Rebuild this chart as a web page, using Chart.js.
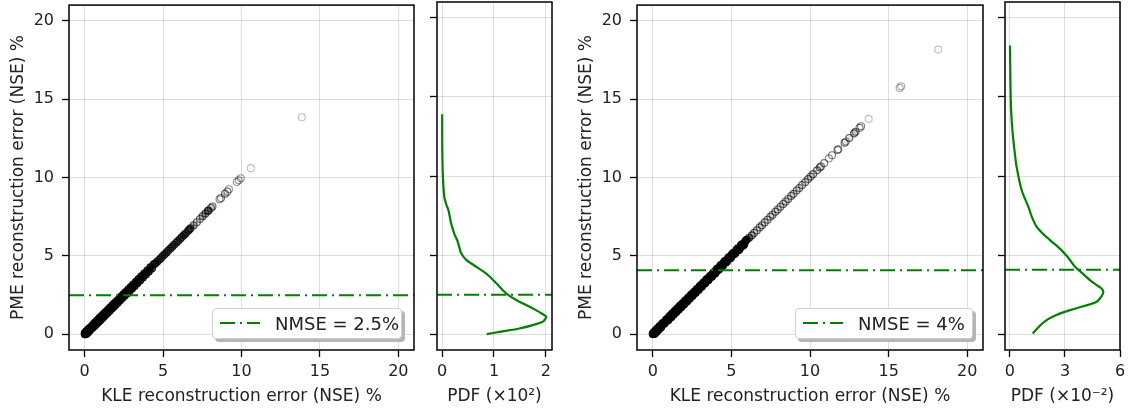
<!DOCTYPE html>
<html><head><meta charset="utf-8">
<script src="https://cdn.jsdelivr.net/npm/chart.js@4.4.0/dist/chart.umd.min.js"></script>
<style>
html,body{margin:0;padding:0;background:#fff;}
#wrap{position:relative;width:1130px;height:417px;overflow:hidden;font-family:'DejaVu Sans',sans-serif;}
canvas{position:absolute;top:0;}
.legend{position:absolute;top:308px;height:31px;background:#fff;border:1px solid #cfcfcf;border-radius:4px;box-shadow:3px 3px 0 #b5b5b5;box-sizing:border-box;}
.legend svg{position:absolute;left:6px;top:12px;}
.legend span{position:absolute;left:62px;top:0;line-height:29px;font-size:18px;color:#222;white-space:nowrap;}
</style></head>
<body>
<div id="wrap">
  <canvas id="c1" width="420" height="417" style="left:0px"></canvas>
  <canvas id="c2" width="150" height="417" style="left:420px"></canvas>
  <canvas id="c3" width="420" height="417" style="left:570px"></canvas>
  <canvas id="c4" width="140" height="417" style="left:990px"></canvas>
  <div class="legend" style="left:212px;width:190px;"><svg width="42" height="4"><line x1="1" y1="2" x2="41" y2="2" stroke="#008000" stroke-width="2" stroke-dasharray="15 5 2 5"/></svg><span id="lg1"></span></div>
  <div class="legend" style="left:795px;width:178px;"><svg width="42" height="4"><line x1="1" y1="2" x2="41" y2="2" stroke="#008000" stroke-width="2" stroke-dasharray="15 5 2 5"/></svg><span id="lg2"></span></div>
</div>
<script>
// ---------- data ----------
const errTicks = [0, 5, 10, 15, 20];
const pdfTicks1 = [0, 1, 2];
const pdfTicks2 = [0, 3, 6];
const nmse1 = 2.5;
const nmse2 = 4.08;
const legend1 = 'NMSE = 2.5%';
const legend2 = 'NMSE = 4%';

// left pair: KLE error vs PME error (%)
const kle1 = [0.00,0.02,0.04,0.06,0.09,0.11,0.14,0.17,0.2,0.23,0.26,0.3,0.33,0.37,0.41,0.45,0.49,0.53,0.58,0.62,0.67,0.71,0.76,0.81,0.86,0.91,0.96,1.01,1.07,1.12,1.18,1.23,1.29,1.35,1.41,1.47,1.53,1.59,1.65,1.72,1.78,1.85,1.91,1.98,2.05,2.12,2.19,2.26,2.33,2.4,2.47,2.55,2.62,2.7,2.78,2.86,2.94,3.02,3.1,3.18,3.27,3.35,3.44,3.53,3.62,3.71,3.8,3.9,3.99,4.09,4.19,4.29,4.4,
  4.5,4.62,4.75,4.86,4.98,5.1,5.22,5.33,5.47,5.58,5.7,5.84,5.95,6.08,6.2,6.33,6.45,6.6,6.68,6.75,6.95,7.15,7.35,7.52,7.7,7.85,7.9,8.05,8.15,
  8.6,8.7,8.95,9.1,9.2,9.7,9.82,9.95,10.6,13.85];
const pme1 = [0.05,0.0,0.12,0.0,0.16,0.04,0.2,0.1,0.27,0.15,0.34,0.22,0.4,0.3,0.47,0.38,0.56,0.45,0.65,0.53,0.75,0.62,0.84,0.72,0.94,0.82,1.05,0.92,1.15,1.03,1.26,1.14,1.37,1.26,1.49,1.38,1.61,1.5,1.73,1.63,1.86,1.76,1.99,1.89,2.13,2.03,2.27,2.17,2.41,2.31,2.55,2.46,2.7,2.61,2.86,2.77,3.02,2.93,3.18,3.09,3.35,3.26,3.52,3.44,3.7,3.62,3.88,3.81,4.07,4.0,4.27,4.2,4.47,
  4.52,4.63,4.76,4.86,4.99,5.1,5.22,5.34,5.47,5.58,5.71,5.84,5.95,6.08,6.2,6.33,6.45,6.6,6.68,6.76,6.96,7.15,7.36,7.53,7.7,7.86,7.9,8.06,8.15,
  8.62,8.7,8.97,9.1,9.25,9.72,9.82,9.96,10.6,13.85];
// left PDF (x10^2) against error level (%)
const pdf1 = [0, 0, 0.005, 0.015, 0.04, 0.08, 0.12, 0.16, 0.19, 0.24, 0.29, 0.33, 0.37, 0.47, 0.66, 0.8, 0.92, 1.05, 1.17, 1.27, 1.49, 1.66, 1.81, 1.92, 2.01, 1.98, 1.94, 1.75, 1.49, 1.11, 0.86];
const lev1 = [13.9, 12.5, 11.0, 9.9, 8.7, 8.2, 7.85, 7.2, 6.8, 6.3, 5.95, 5.5, 5.1, 4.68, 4.26, 3.95, 3.63, 3.2, 2.78, 2.49, 2.05, 1.78, 1.52, 1.31, 1.1, 0.92, 0.78, 0.57, 0.36, 0.15, 0.0];

// right pair
const kle2 = [0.0,0.03,0.06,0.1,0.14,0.2,0.26,0.33,0.4,0.5,0.6,0.7,0.78,0.9,1.0,1.1,1.18,1.26,1.34,1.42,1.5,1.58,1.66,1.75,1.83,1.92,2.0,2.09,2.18,2.27,2.36,2.45,2.54,2.64,2.73,2.83,2.93,3.03,3.13,3.23,3.33,3.44,3.55,3.66,3.77,3.88,4.0,4.11,4.23,4.35,4.47,4.59,4.72,4.85,4.98,5.11,5.25,5.39,5.53,5.67,5.82,5.97,
  0.05,0.12,0.17,0.23,0.3,0.37,0.45,0.55,0.65,0.74,0.84,0.95,1.05,1.14,1.22,1.3,1.38,1.46,1.54,1.62,1.7,1.79,1.87,1.96,2.04,2.13,2.22,2.31,2.4,2.49,2.59,2.68,2.78,2.88,2.98,3.08,3.18,3.28,3.38,3.49,3.6,3.71,3.82,3.94,4.05,4.17,4.29,4.41,4.53,4.65,4.78,4.91,5.04,5.18,5.32,5.46,5.6,5.74,5.89,
  6.12,6.3,6.45,6.62,6.8,6.95,7.12,7.3,7.48,7.62,7.8,7.95,8.12,8.3,8.45,8.62,8.8,8.95,9.15,9.32,9.5,9.7,9.88,10.05,10.2,10.45,10.62,10.7,
  10.9,11.2,11.4,11.75,11.8,12.2,12.28,12.5,12.8,12.9,13.15,13.25,13.73,15.7,15.8,18.15];
const pme2 = [0.03,0.0,0.12,0.02,0.2,0.12,0.33,0.26,0.46,0.42,0.67,0.74,0.76,0.97,0.93,1.18,1.1,1.34,1.26,1.5,1.42,1.66,1.58,1.83,1.75,2.0,1.92,2.17,2.1,2.35,2.28,2.53,2.46,2.72,2.65,2.91,2.85,3.11,3.05,3.31,3.25,3.52,3.47,3.74,3.69,3.96,3.92,4.19,4.15,4.43,4.39,4.67,4.64,4.93,4.9,5.19,5.17,5.47,5.45,5.75,5.74,6.03,
  0.1,0.06,0.22,0.16,0.36,0.3,0.52,0.48,0.72,0.68,0.91,0.88,1.12,1.08,1.29,1.25,1.45,1.41,1.61,1.57,1.77,1.74,1.93,1.91,2.1,2.08,2.28,2.26,2.46,2.44,2.65,2.63,2.84,2.82,3.04,3.02,3.24,3.22,3.44,3.43,3.66,3.65,3.88,3.87,4.11,4.1,4.35,4.34,4.59,4.58,4.84,4.84,5.1,5.1,5.38,5.37,5.66,5.65,5.95,
  6.14,6.31,6.47,6.63,6.82,6.96,7.14,7.31,7.5,7.63,7.82,7.96,8.14,8.31,8.47,8.63,8.82,8.96,9.17,9.33,9.52,9.71,9.9,10.06,10.22,10.46,10.64,10.71,
  10.92,11.22,11.42,11.76,11.8,12.22,12.3,12.52,12.82,12.92,13.17,13.27,13.74,15.72,15.82,18.16];
// right PDF (x10^-2) against error level (%)
const pdf2 = [0, 0.02, 0.04, 0.08, 0.15, 0.25, 0.36, 0.64, 1.0, 1.2, 1.45, 1.8, 2.18, 2.82, 3.2, 3.55, 4.0, 4.36, 4.73, 4.98, 5.09, 5.0, 4.73, 4.1, 3.27, 2.5, 2.0, 1.6, 1.24];
const lev2 = [18.25, 16.5, 15.0, 13.8, 12.7, 11.6, 10.6, 9.1, 8.06, 7.4, 6.8, 6.35, 5.95, 5.3, 4.8, 4.26, 3.8, 3.42, 3.1, 2.9, 2.68, 2.4, 2.05, 1.8, 1.52, 1.2, 0.89, 0.5, 0.04];

// ---------- styling / layout ----------
Chart.defaults.font.family = "'DejaVu Sans', sans-serif";
Chart.defaults.color = '#222';
const GREEN = '#008000';
const ERR_MIN = -1, ERR_MAX = 21;

const framePlugin = {
  id: 'frame',
  afterDraw(chart) {
    const {ctx, chartArea: a} = chart;
    ctx.save();
    ctx.strokeStyle = '#000';
    ctx.lineWidth = 1.5;
    ctx.strokeRect(a.left, a.top, a.right - a.left, a.bottom - a.top);
    ctx.restore();
  }
};

function grid() {
  return {color: 'rgba(0,0,0,0.13)', lineWidth: 1, tickColor: '#000', tickLength: 7, tickWidth: 1.3};
}
function fixedTicks(vals) {
  return s => { s.ticks = vals.map(v => ({value: v})); };
}
function fitTo(prop, size) {
  return s => { s[prop] = size; s.paddingLeft = 0; s.paddingRight = 0; s.paddingTop = 0; s.paddingBottom = 0; };
}
function pts(xs, ys) { return xs.map((x, i) => ({x: x, y: ys[i]})); }
// emulate over-plotting of translucent markers: darker where markers crowd together
function crowd(xs) {
  return xs.map(a => {
    let n = 0;
    for (const b of xs) if (Math.abs(a - b) <= 0.45) n++;
    return Math.min(1, 0.25 + 0.09 * (n - 1));
  });
}
function edgeColors(xs) { return crowd(xs).map(a => 'rgba(0,0,0,' + a.toFixed(3) + ')'); }
function fillColors(xs) { return crowd(xs).map(a => 'rgba(0,0,0,' + Math.max(0, Math.min(1, (a - 0.55) * 1.8)).toFixed(3) + ')'); }

function nmseSet(level, xmin, xmax) {
  return {data: [{x: xmin, y: level}, {x: xmax, y: level}], showLine: true, borderColor: GREEN,
    borderWidth: 2, borderDash: [15, 5, 2, 5], pointRadius: 0, borderCapStyle: 'butt'};
}

function scatterPanel(id, kle, pme, nmse, yAxisW, rightPad, ytitlePad) {
  return new Chart(document.getElementById(id), {
    type: 'scatter',
    data: {datasets: [
      nmseSet(nmse, ERR_MIN, ERR_MAX),
      {data: pts(kle, pme), pointRadius: 3.5, pointBorderWidth: 1.1,
       pointBorderColor: edgeColors(kle), pointBackgroundColor: fillColors(kle)}
    ]},
    options: {
      responsive: false, animation: false, events: [],
      layout: {padding: {left: 0, top: 2, right: rightPad, bottom: 0}},
      plugins: {legend: {display: false}, tooltip: {enabled: false}},
      scales: {
        x: {type: 'linear', min: ERR_MIN, max: ERR_MAX, grid: grid(), border: {display: false},
            afterBuildTicks: fixedTicks(errTicks), afterFit: fitTo('height', 67),
            ticks: {font: {size: 16}, color: '#222', padding: 5, autoSkip: false, maxRotation: 0},
            title: {display: true, text: 'KLE reconstruction error (NSE) %', font: {size: 17}, color: '#222', padding: {top: 0, bottom: 10}}},
        y: {type: 'linear', min: ERR_MIN, max: ERR_MAX, grid: grid(), border: {display: false},
            afterBuildTicks: fixedTicks(errTicks), afterFit: fitTo('width', yAxisW),
            ticks: {font: {size: 16}, color: '#222', padding: 8},
            title: {display: true, text: 'PME reconstruction error (NSE) %', font: {size: 17}, color: '#222', padding: {top: ytitlePad, bottom: 0}}}
      }
    },
    plugins: [framePlugin]
  });
}

function pdfPanel(id, pdf, lev, nmse, xmin, xmax, ticks, label, yAxisW, rightPad) {
  return new Chart(document.getElementById(id), {
    type: 'scatter',
    data: {datasets: [
      nmseSet(nmse, xmin, xmax),
      {data: pts(pdf, lev), showLine: true, borderColor: GREEN, borderWidth: 2.2, pointRadius: 0, tension: 0.3}
    ]},
    options: {
      responsive: false, animation: false, events: [],
      layout: {padding: {left: 0, top: 2, right: rightPad, bottom: 0}},
      plugins: {legend: {display: false}, tooltip: {enabled: false}},
      scales: {
        x: {type: 'linear', min: xmin, max: xmax, grid: grid(), border: {display: false},
            afterBuildTicks: fixedTicks(ticks), afterFit: fitTo('height', 67),
            ticks: {font: {size: 16}, color: '#222', padding: 5, autoSkip: false, maxRotation: 0},
            title: {display: true, text: label, font: {size: 17}, color: '#222', padding: {top: 0, bottom: 10}}},
        y: {type: 'linear', min: ERR_MIN, max: ERR_MAX, grid: grid(), border: {display: false},
            afterBuildTicks: fixedTicks(errTicks), afterFit: fitTo('width', yAxisW),
            ticks: {callback: () => '', padding: 0}}
      }
    },
    plugins: [framePlugin]
  });
}

scatterPanel('c1', kle1, pme1, nmse1, 69, 6, 8);
pdfPanel('c2', pdf1, lev1, nmse1, -0.1, 2.12, pdfTicks1, 'PDF (×10²)', 17, 18);
scatterPanel('c3', kle2, pme2, nmse2, 67, 7, 6);
pdfPanel('c4', pdf2, lev2, nmse2, -0.27, 6, pdfTicks2, 'PDF (×10⁻²)', 15, 10);
document.getElementById('lg1').textContent = legend1;
document.getElementById('lg2').textContent = legend2;
</script>
</body></html>
